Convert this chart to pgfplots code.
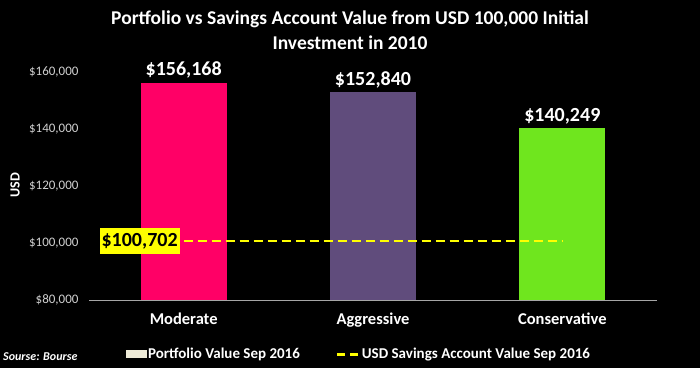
\documentclass[border=0pt]{standalone}
\usepackage{pgfplots}
\pgfplotsset{compat=1.18}
\usepackage{fontspec}
\setmainfont{Carlito}
\definecolor{cpink}{HTML}{FF0066}
\definecolor{cpurple}{HTML}{604C7C}
\definecolor{cgreen}{HTML}{6FE61E}
\definecolor{ccream}{HTML}{EEEBD8}
\definecolor{cyel}{HTML}{FFFF00}
\definecolor{ctick}{HTML}{D0D0D0}
\begin{document}
\begin{tikzpicture}
\fill[black] (0,0) rectangle (700bp,368bp);
\useasboundingbox (0,0) rectangle (700bp,368bp);
\begin{axis}[
  at={(89bp,68bp)}, anchor=south west,
  scale only axis, width=568bp, height=228bp,
  xmin=-0.5, xmax=2.5, ymin=80000, ymax=160000,
  scaled y ticks=false,
  clip mode=individual,
  axis x line*=bottom,
  x axis line style={draw=gray!70, line width=0.8bp, -},
  y axis line style={draw=none},
  axis y line*=left,
  major tick length=0pt,
  xtick={0,1,2},
  xticklabels={Moderate,Aggressive,Conservative},
  xticklabel style={font=\fontsize{16.5bp}{18bp}\selectfont\bfseries, text=white, yshift=-9bp},
  ytick={80000,100000,120000,140000,160000},
  yticklabels={{\$80,000},{\$100,000},{\$120,000},{\$140,000},{\$160,000}},
  yticklabel style={font=\fontsize{13bp}{15bp}\selectfont, text=ctick, xshift=-7bp},
  /pgf/number format/assume math mode=true,
  legend style={at={(0.065,-0.237)}, anchor=west, draw=none, fill=none,
    text=white, font=\fontsize{15bp}{16bp}\selectfont\bfseries,
    legend columns=2, /tikz/every even column/.append style={column sep=34bp},
    inner sep=0pt, nodes={inner sep=1.5bp}},
  legend cell align=left,
]
\addplot[ybar, fill=cpink, draw=none, bar width=0.455, bar shift=0pt, forget plot,
  point meta=explicit symbolic, nodes near coords,
  every node near coord/.append style={font=\fontsize{20bp}{22bp}\selectfont\bfseries, text=white, yshift=1bp}]
  coordinates {(0,156168) [\$156,168]};
\addplot[ybar, fill=cpurple, draw=none, bar width=0.455, bar shift=0pt, forget plot,
  point meta=explicit symbolic, nodes near coords,
  every node near coord/.append style={font=\fontsize{20bp}{22bp}\selectfont\bfseries, text=white, yshift=1bp}]
  coordinates {(1,152840) [\$152,840]};
\addplot[ybar, fill=cgreen, draw=none, bar width=0.455, bar shift=0pt, forget plot,
  point meta=explicit symbolic, nodes near coords,
  every node near coord/.append style={font=\fontsize{20bp}{22bp}\selectfont\bfseries, text=white, yshift=1bp}]
  coordinates {(2,140249) [\$140,249]};
\addlegendimage{legend image code/.code={\fill[ccream] (0bp,-3.5bp) rectangle (20bp,3.5bp);}}
\addlegendentry{Portfolio Value Sep 2016}
\addplot[cyel, line width=2.5bp, dash pattern=on 9bp off 5bp,
  legend image code/.code={\draw[cyel, line width=3bp, dash pattern=on 8bp off 5bp] (0bp,0bp) -- (22bp,0bp);}]
  coordinates {(0,100702) (2,100702)};
\addlegendentry{USD Savings Account Value Sep 2016}
\node[fill=cyel, text=black, anchor=east, inner sep=2bp, minimum height=26bp,
  font=\fontsize{20bp}{22bp}\selectfont\bfseries] at (axis cs:-0.02,100702) {\$100,702};
\end{axis}
\node[text=white, align=center, font=\fontsize{19.5bp}{25bp}\selectfont\bfseries]
  at (350bp,338bp) {Portfolio vs Savings Account Value from USD 100,000 Initial\\Investment in 2010};
\node[text=white, rotate=90, font=\fontsize{14bp}{15bp}\selectfont\bfseries] at (15bp,183bp) {USD};
\node[text=white, anchor=west, inner sep=0pt, font=\fontsize{12bp}{14bp}\selectfont\bfseries\itshape] at (3bp,11bp) {Sourse: Bourse};
\end{tikzpicture}
\end{document}
